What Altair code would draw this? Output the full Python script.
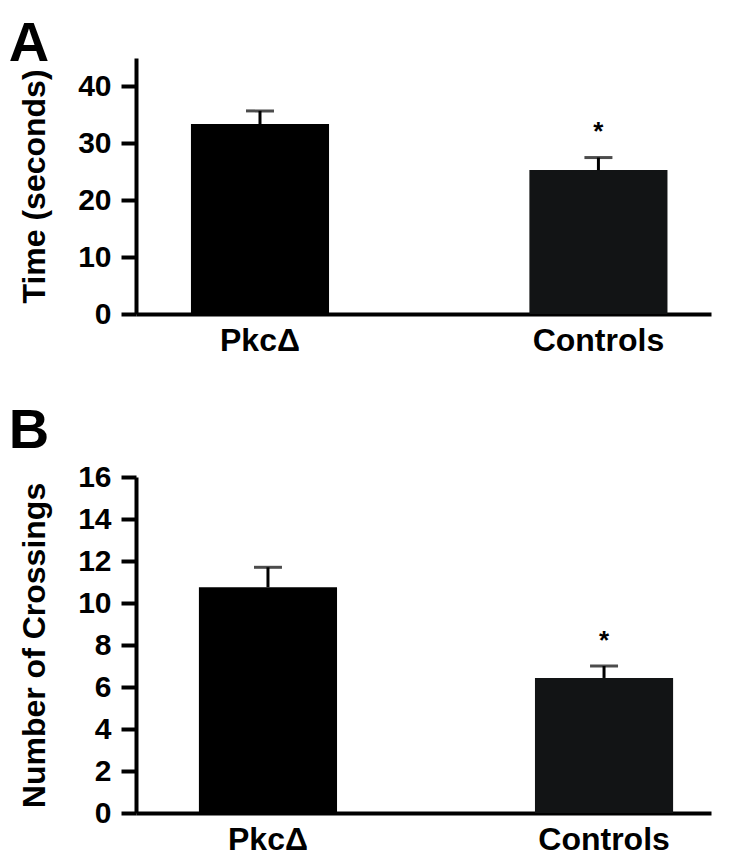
import altair as alt
import pandas as pd

groups = ["PkcΔ", "Controls"]
time_mean = [33.4, 25.3]
time_sem = [2.3, 2.2]
cross_mean = [10.75, 6.43]
cross_sem = [0.95, 0.57]
significance = ["", "*"]
bar_colors = ["#000000", "#121415"]

FONT = "Liberation Sans"


def panel(means, sems, ymax, tick_step, label_step, ytitle, letter, height,
          pi, po, align, title_offset, star_dy):
    df = pd.DataFrame({
        "group": groups,
        "mean": means,
        "sem": sems,
        "top": [m + s for m, s in zip(means, sems)],
        "sig": significance,
    })
    xscale = alt.Scale(paddingInner=pi, paddingOuter=po, align=align)
    x = alt.X("group:N", sort=groups, title=None, scale=xscale,
              axis=alt.Axis(labelAngle=0, labelFontSize=32, labelFontWeight="bold",
                            labelColor="black", labelPadding=11, ticks=False,
                            domainWidth=4, domainColor="black", labelFont=FONT))
    xs = alt.X("group:N", sort=groups, scale=xscale)
    yscale = alt.Scale(domain=[0, ymax], nice=False)
    yaxis = alt.Axis(values=list(range(0, ymax + 1, tick_step)),
                     labelExpr=f"datum.value % {label_step} == 0 ? datum.label : ''",
                     labelFontSize=30, labelFontWeight="bold", labelColor="black",
                     labelFont=FONT, labelPadding=10,
                     tickSize=15, tickWidth=4, tickColor="black",
                     domainWidth=4, domainColor="black", grid=False,
                     titleFontSize=32, titleFontWeight="bold", titleColor="black",
                     titleFont=FONT, titlePadding=26)
    bars = alt.Chart(df).mark_bar().encode(
        x=x,
        y=alt.Y("mean:Q", scale=yscale, title=ytitle, axis=yaxis),
        color=alt.Color("group:N", scale=alt.Scale(domain=groups, range=bar_colors), legend=None),
    )
    err = alt.Chart(df).mark_rule(strokeWidth=3, color="black").encode(
        x=xs, y="mean:Q", y2="top:Q")
    cap = alt.Chart(df).mark_tick(orient="horizontal", size=28, thickness=3, color="black").encode(
        x=xs, y="top:Q")
    star = alt.Chart(df).mark_text(fontSize=26, fontWeight="bold", font=FONT, dy=star_dy,
                                   baseline="alphabetic", color="black").encode(
        x=xs, y="top:Q", text="sig:N")
    return alt.layer(bars, err, cap, star).properties(
        width=575, height=height,
        title=alt.TitleParams(letter, anchor="start", fontSize=56, fontWeight="bold",
                              font=FONT, color="black", frame="bounds", offset=title_offset, dx=-10),
    )


a = panel(time_mean, time_sem, 45, 5, 10, "Time (seconds)", "A", 256, 0.592, 0.1455, 0.558, -15, -18)
b = panel(cross_mean, cross_sem, 16, 2, 2, "Number of Crossings", "B", 336, 0.589, 0.15, 0.624, 2, -17)

chart = alt.vconcat(a, b, spacing=47).properties(
    padding={"left": 0, "top": 8, "right": 5, "bottom": 0}
).configure_view(stroke=None)

chart.save("out.html", embed_options={"renderer": "svg", "actions": False})
